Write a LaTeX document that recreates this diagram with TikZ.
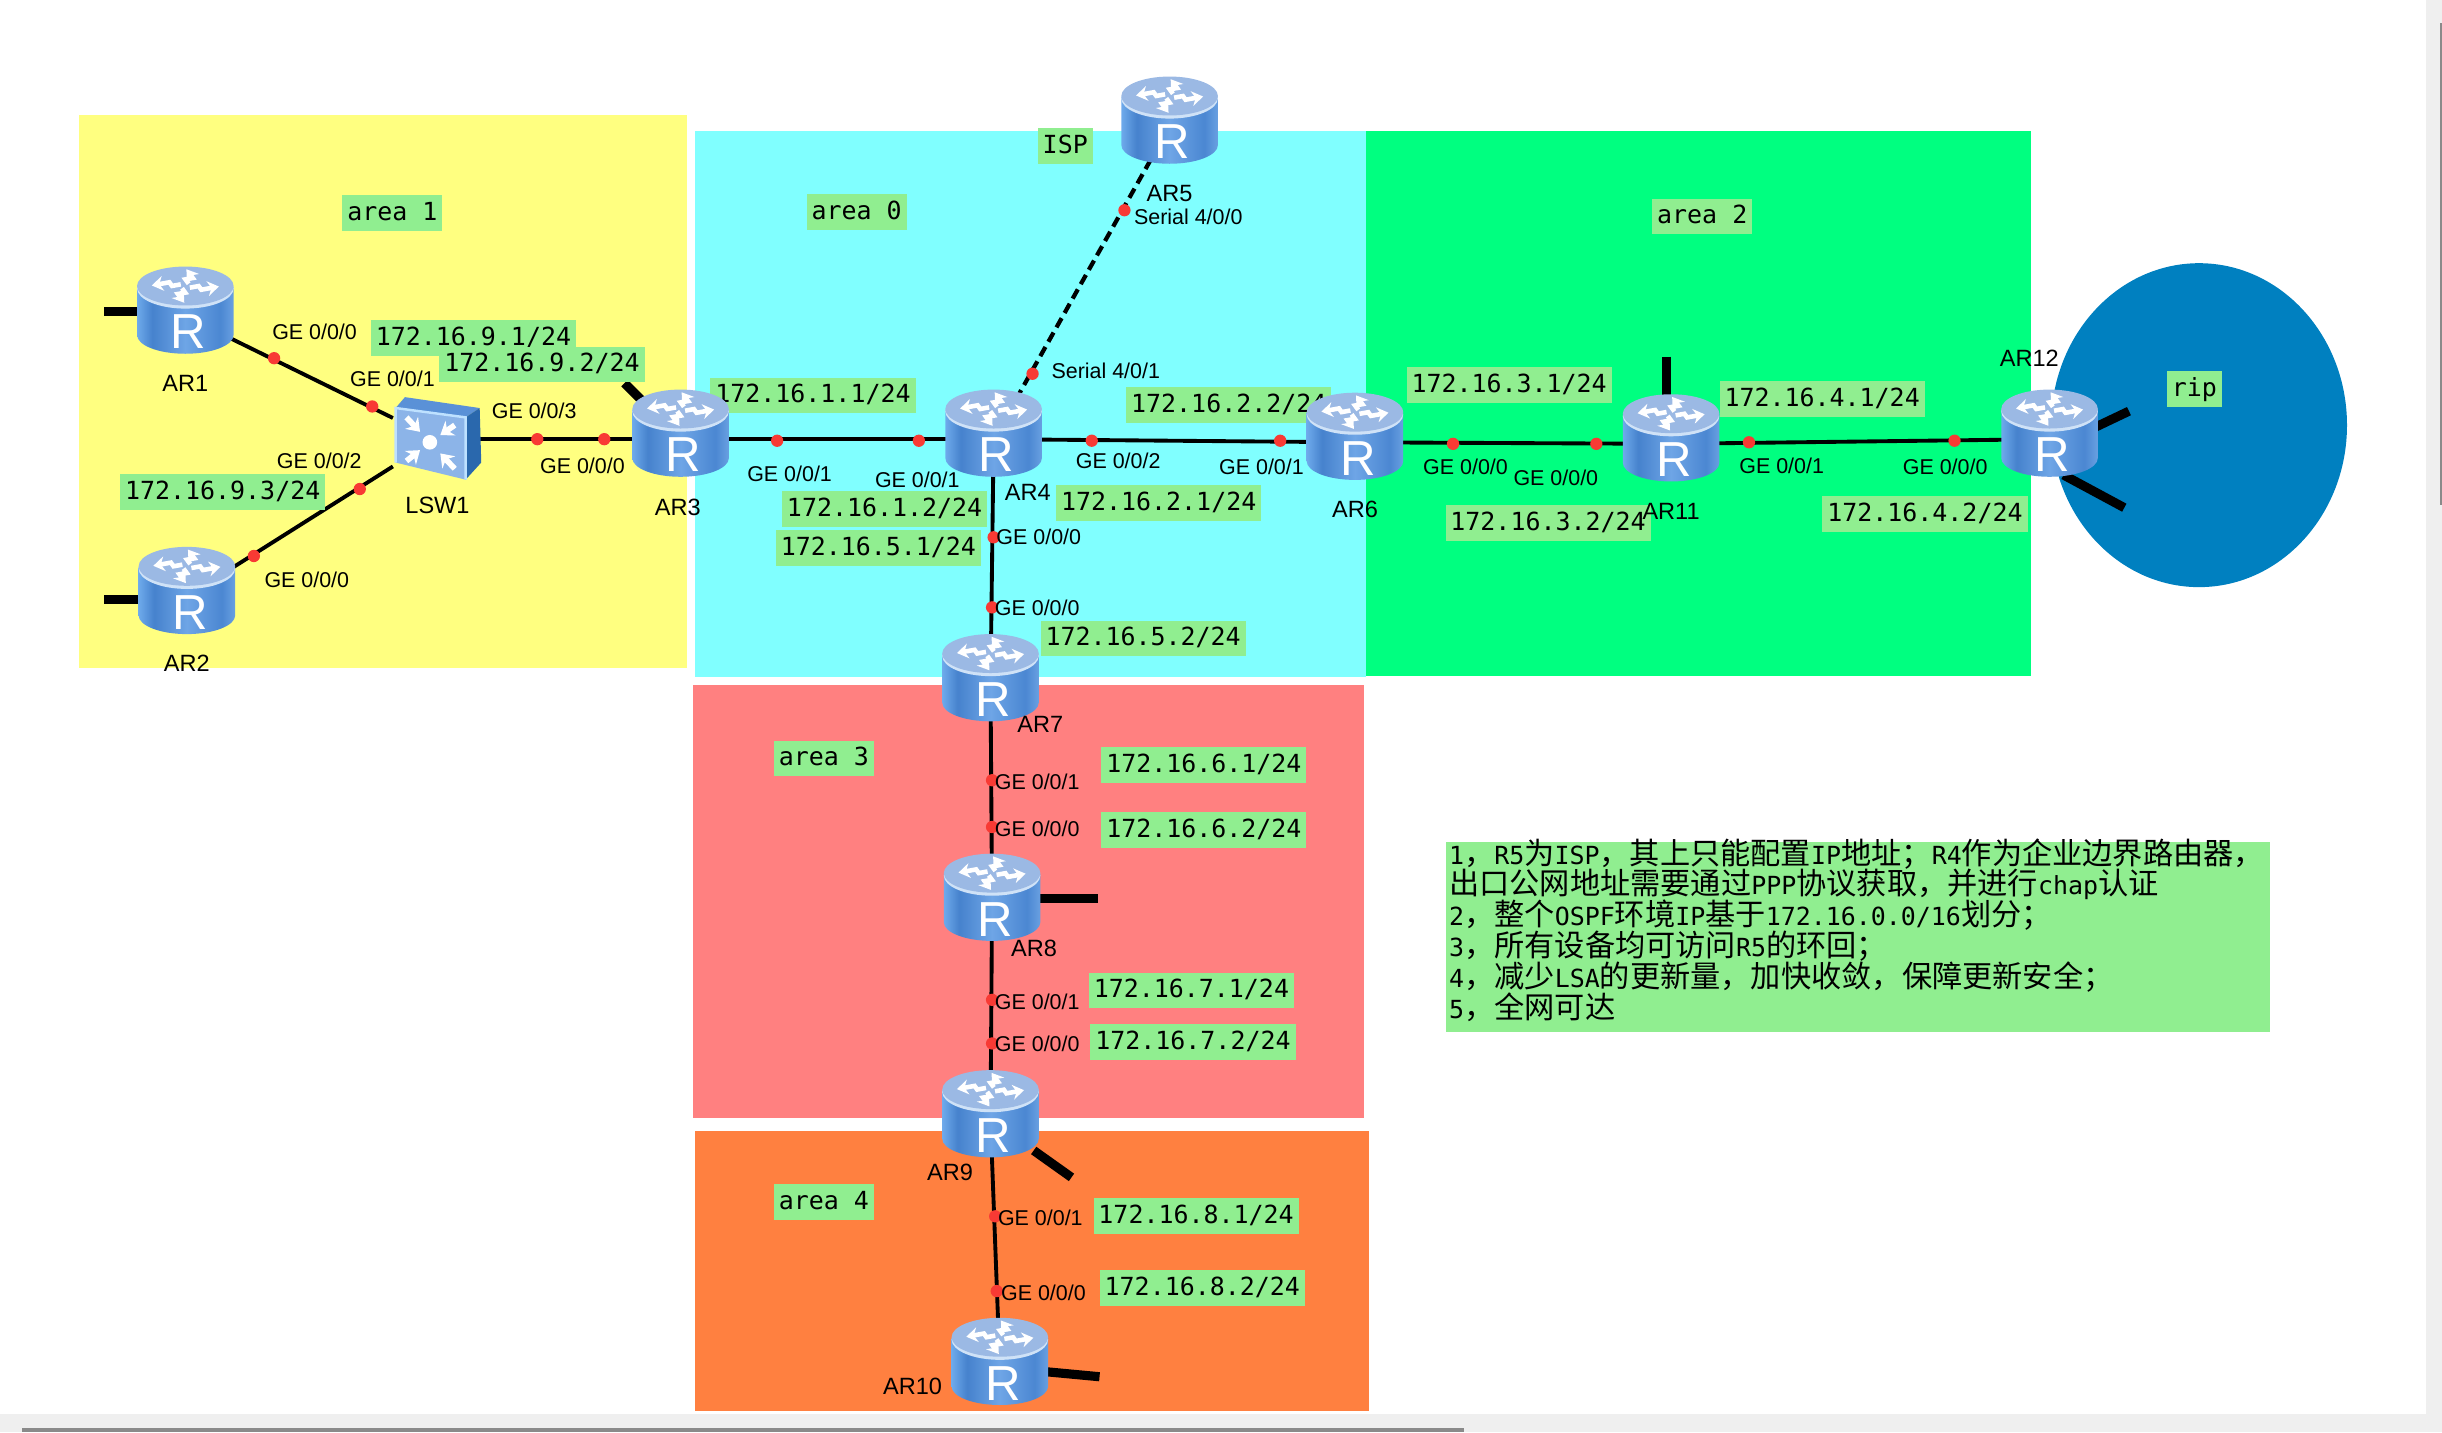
\documentclass[tikz,border=0pt]{standalone}
\usepackage{fontspec}
\setmainfont{Liberation Sans}
\setmonofont{DejaVu Sans Mono}
\newfontfamily\cjkfont{Noto Sans CJK SC}
\newcommand{\zh}[1]{\smash{\cjkfont\fontsize{8.6}{8.8}\selectfont #1}}
\usetikzlibrary{arrows.meta, positioning, calc}
\definecolor{areayellow}{HTML}{FFFF80}
\definecolor{areacyan}{HTML}{80FFFF}
\definecolor{areagreen}{HTML}{00FF80}
\definecolor{areared}{HTML}{FF8080}
\definecolor{areaorange}{HTML}{FF8040}
\definecolor{ripblue}{HTML}{0080C0}
\definecolor{notegreen}{HTML}{90EE90}
\definecolor{portred}{HTML}{F83A34}
\definecolor{gutter}{HTML}{EFEFEF}
\definecolor{thumb}{HTML}{8A8A8A}
\definecolor{rtlight}{HTML}{6EAAEB}
\definecolor{rtdark}{HTML}{4682CD}
\definecolor{rtmid}{HTML}{6EA5E6}
\definecolor{rtdark2}{HTML}{4B87D2}
\definecolor{rtedge}{HTML}{69A0E1}
\definecolor{rttop}{HTML}{9BB9E4}
\definecolor{rtrim}{HTML}{CFE2F7}
\definecolor{swtop}{HTML}{5A91D7}
\definecolor{swside}{HTML}{2A68AD}
\definecolor{swfront}{HTML}{8CB4E8}
\definecolor{swrim}{HTML}{BEE1FF}
\pgfdeclarehorizontalshading{routerbody}{100bp}{
  color(0bp)=(rtlight);
  color(25bp)=(rtlight);
  color(33bp)=(rtdark);
  color(50bp)=(rtmid);
  color(68bp)=(rtdark2);
  color(75bp)=(rtedge);
  color(100bp)=(rtedge)}
\tikzset{
  devbox/.style={minimum width=0.85cm, minimum height=0.66cm, inner sep=0pt},
  devlabel/.style={font=\fontsize{6.7}{7}\selectfont, inner sep=0pt, text=black},
  portlabel/.style={font=\fontsize{6.1}{7}\selectfont, inner sep=0pt},
  iplabel/.style={font=\ttfamily\fontsize{7.1}{8}\selectfont, fill=notegreen, inner xsep=1.4pt,
    inner ysep=1.8pt, text height=5.4pt, text depth=1.2pt},
  portdot/.style={circle, fill=portred, inner sep=0pt, minimum size=3.5pt},
  wire/.style={line width=1.1pt, black},
  stub/.style={line width=2.6pt, black},
  pics/routerpic/.style={code={
    \path[shading=routerbody] (-31,-15) -- (-31,16)
      arc[start angle=180, end angle=0, x radius=31, y radius=12] -- (31,-15) -- cycle;
    \fill[rtrim] (0,-14) ellipse[x radius=31, y radius=13];
    \fill[rttop] (0,-15.5) ellipse[x radius=31, y radius=12.5];
    \foreach \a in {20,110,200,290}
      \draw[white, line width=1.3pt, -{Stealth[length=3.2pt, width=4.2pt]}, shift={(0,-15.5)}, yscale=0.5, rotate=\a]
        (2,3) -- (8,3) -- (8,8) -- (20,8);
    \node[text=white, inner sep=0pt, font=\fontsize{14}{14}\selectfont] at (2,14) {R};
  }},
  pics/switchpic/.style={code={
    \fill[swtop] (-26,-20) -- (-20,-27) -- (28,-20) -- (19,-14) -- cycle;
    \fill[swside] (19,-14) -- (28,-20) -- (29,15) -- (19,26) -- cycle;
    \fill[swfront] (-26,-20) -- (19,-14) -- (19,26) -- (-26,15) -- cycle;
    \draw[swrim, line width=0.7pt] (-26,15) -- (-26,-20) -- (19,-14) -- (19,26);
    \fill[white] (-4,2) circle[radius=4.7];
    \foreach \fx/\fy in {-19/-14, 12/-9, -19/14, 12/19}
      \draw[white, line width=1.6pt, -{Stealth[length=3.5pt, width=5pt]}] (\fx,\fy) -- ($(-4,2)!0.42!(\fx,\fy)$);
  }}
}
\begin{document}
\begin{tikzpicture}[x=0.015574cm, y=-0.015574cm]
\useasboundingbox (0,0) rectangle (1568,919.5);

% window edges
\fill[gutter] (1557.7,0) rectangle (1568,919.5);
\fill[gutter] (0,908) rectangle (1568,919.5);
\fill[thumb] (1566.7,15) rectangle (1568,324);
\fill[thumb] (14,917) rectangle (940,919.5);

% areas
\fill[areayellow] (51,74) rectangle (441,429);
\fill[areacyan] (446,84) rectangle (877,435);
\fill[areagreen] (877,84) rectangle (1304,434);
\fill[areared] (445,440) rectangle (876,718);
\fill[areaorange] (446,726) rectangle (879,906);
\fill[ripblue] (1412,273) ellipse[x radius=95, y radius=104];

% devices
\node[devbox] (ar1) at (119,203) {};
\node[devbox] (ar2) at (120,383) {};
\node[devbox] (ar3) at (437,282) {};
\node[devbox] (ar4) at (638,282) {};
\node[devbox] (ar5) at (751,81) {};
\node[devbox] (ar6) at (870,284) {};
\node[devbox] (ar7) at (636,439) {};
\node[devbox] (ar8) at (637,580) {};
\node[devbox] (ar9) at (636,719) {};
\node[devbox] (ar10) at (642,878) {};
\node[devbox] (ar11) at (1073,285) {};
\node[devbox] (ar12) at (1316,282) {};
\node[devbox] (lsw1) at (280,282) {};

% free ends of the stubs
\coordinate (end1) at (67,200);
\coordinate (end2) at (67,385);
\coordinate (end3) at (401,246);
\coordinate (end8) at (705,577);
\coordinate (end9) at (688,756);
\coordinate (end10) at (706,884);
\coordinate (end11) at (1070,229);
\coordinate (end12a) at (1367,264);
\coordinate (in12a) at (1325,284);
\coordinate (end12b) at (1364,326);
\coordinate (in12b) at (1325,305);

% links
\draw[wire] (ar1) -- (lsw1);
\draw[wire] (ar2) -- (lsw1);
\draw[wire] (lsw1) -- (ar3);
\draw[wire] (ar3) -- (ar4);
\draw[wire] (ar4) -- (ar6);
\draw[wire] (ar6) -- (ar11);
\draw[wire] (ar11) -- (ar12);
\draw[wire] (ar4) -- (ar7);
\draw[wire] (ar7) -- (ar8);
\draw[wire] (ar8) -- (ar9);
\draw[wire] (ar9) -- (ar10);
\draw[wire, line width=1.2pt, dash pattern=on 3pt off 1.7pt] (ar5) -- (ar4);

\draw[stub] (end1) -- (end1 -| ar1);
\draw[stub] (end2) -- (end2 -| ar2);
\draw[stub] (end3) -- (ar3);
\draw[stub] (end8) -- (end8 -| ar8);
\draw[stub] (end9) -- (ar9);
\draw[stub] (end10) -- (ar10);
\draw[stub] (end11) -- (end11 |- ar11);
\draw[stub] (end12a) -- (in12a);
\draw[stub] (end12b) -- (in12b);

% ports
\foreach \x/\y [count=\i] in {176/230, 239/261, 231/314, 163/357, 345/282, 388/282, 499/283, 590/283,
  701/283, 822/283, 933/285, 1025/285, 1123/284, 1255/283, 722/135, 663/240, 638/345, 637/390,
  637/501, 637/531, 637/642, 637/670, 639/781, 640/829}
  \node[portdot] (dot\i) at (\x,\y) {};

% addresses
\node[iplabel] (ip91) at (304,217) {172.16.9.1/24};
\node[iplabel] (ip92) at (348,234) {172.16.9.2/24};
\node[iplabel] (ip93) at (143,316) {172.16.9.3/24};
\node[iplabel] (ip11) at (522,254) {172.16.1.1/24};
\node[iplabel] (ip12) at (568,327) {172.16.1.2/24};
\node[iplabel] (ip51) at (564,352) {172.16.5.1/24};
\node[iplabel] (ip22) at (789,260) {172.16.2.2/24};
\node[iplabel] (ip21) at (744,323) {172.16.2.1/24};
\node[iplabel] (ip52) at (734,410) {172.16.5.2/24};
\node[iplabel] (ip31) at (969,247) {172.16.3.1/24};
\node[iplabel] (ip32) at (994,336) {172.16.3.2/24};
\node[iplabel] (ip41) at (1170,256) {172.16.4.1/24};
\node[iplabel] (ip42) at (1236,330) {172.16.4.2/24};
\node[iplabel] (ip61) at (773,491) {172.16.6.1/24};
\node[iplabel] (ip62) at (773,533) {172.16.6.2/24};
\node[iplabel] (ip71) at (765,636) {172.16.7.1/24};
\node[iplabel] (ip72) at (766,669) {172.16.7.2/24};
\node[iplabel] (ip81) at (768,781) {172.16.8.1/24};
\node[iplabel] (ip82) at (772,827) {172.16.8.2/24};

\node[iplabel] (isp) at (684,94) {ISP};
\node[iplabel] (area1) at (252,137) {area 1};
\node[iplabel] (area0) at (550,136) {area 0};
\node[iplabel] (area2) at (1093,139) {area 2};
\node[iplabel] (area3) at (529,487) {area 3};
\node[iplabel] (area4) at (529,772) {area 4};
\node[iplabel] (rip) at (1409,250) {rip};

% icons on top of the links
\foreach \dev in {ar1,ar2,ar3,ar4,ar5,ar6,ar7,ar8,ar9,ar10,ar11,ar12}
  \pic at ([yshift=0.06cm]\dev.center) {routerpic};
\pic at (lsw1) {switchpic};

% names
\node[devlabel, below=7pt of ar1] (name1) {AR1};
\node[devlabel, below=6.8pt of ar2] (name2) {AR2};
\node[devlabel, below=7.2pt of ar3, xshift=-0.8pt] (name3) {AR3};
\node[devlabel] (name4) at (660,316) {AR4};
\node[devlabel, below=7pt of ar5] (name5) {AR5};
\node[devlabel, below=7pt of ar6] (name6) {AR6};
\node[devlabel] (name7) at (668,465) {AR7};
\node[devlabel] (name8) at (664,609) {AR8};
\node[devlabel] (name9) at (610,753) {AR9};
\node[devlabel] (name10) at (586,890) {AR10};
\node[devlabel, below=7pt of ar11] (name11) {AR11};
\node[devlabel] (name12) at (1303,230) {AR12};
\node[devlabel, below=6.6pt of lsw1, xshift=0.4pt] (namesw) {LSW1};

% port names
\node[portlabel] (ge1) at (202,213) {GE 0/0/0};
\node[portlabel] (ge2) at (252,243) {GE 0/0/1};
\node[portlabel] (ge3) at (205,296) {GE 0/0/2};
\node[portlabel] (ge4) at (197,372) {GE 0/0/0};
\node[portlabel] (ge5) at (343,264) {GE 0/0/3};
\node[portlabel] (ge6) at (374,299) {GE 0/0/0};
\node[portlabel] (ge7) at (507,304) {GE 0/0/1};
\node[portlabel] (ge8) at (589,308) {GE 0/0/1};
\node[portlabel] (ge9) at (718,296) {GE 0/0/2};
\node[portlabel] (ge10) at (810,300) {GE 0/0/1};
\node[portlabel] (ge11) at (941,300) {GE 0/0/0};
\node[portlabel] (ge12) at (999,307) {GE 0/0/0};
\node[portlabel] (ge13) at (1144,299) {GE 0/0/1};
\node[portlabel] (ge14) at (1249,300) {GE 0/0/0};
\node[portlabel] (ge15) at (667,345) {GE 0/0/0};
\node[portlabel] (ge16) at (666,390) {GE 0/0/0};
\node[portlabel] (ge17) at (666,502) {GE 0/0/1};
\node[portlabel] (ge18) at (666,532) {GE 0/0/0};
\node[portlabel] (ge19) at (666,643) {GE 0/0/1};
\node[portlabel] (ge20) at (666,670) {GE 0/0/0};
\node[portlabel] (ge21) at (668,782) {GE 0/0/1};
\node[portlabel] (ge22) at (670,830) {GE 0/0/0};
\node[portlabel] (ser0) at (763,139) {Serial 4/0/0};
\node[portlabel] (ser1) at (710,238) {Serial 4/0/1};

% task list
\node[fill=notegreen, anchor=north west, inner xsep=0.9pt, inner ysep=0pt, text width=8.18cm,
  minimum height=1.9cm, align=left, font=\ttfamily\fontsize{7.1}{8.8}\selectfont]
  (tasks) at (928,540) {%
  1\zh{，}R5\zh{为}ISP\zh{，其上只能配置}IP\zh{地址；}R4\zh{作为企业边界路由器，}\\
  \zh{出口公网地址需要通过}PPP\zh{协议获取，并进行}chap\zh{认证}\\
  2\zh{，整个}OSPF\zh{环境}IP\zh{基于}172.16.0.0/16\zh{划分；}\\
  3\zh{，所有设备均可访问}R5\zh{的环回；}\\
  4\zh{，减少}LSA\zh{的更新量，加快收敛，保障更新安全；}\\
  5\zh{，全网可达}\rule[-2.6pt]{0pt}{1pt}};

\end{tikzpicture}
\end{document}
